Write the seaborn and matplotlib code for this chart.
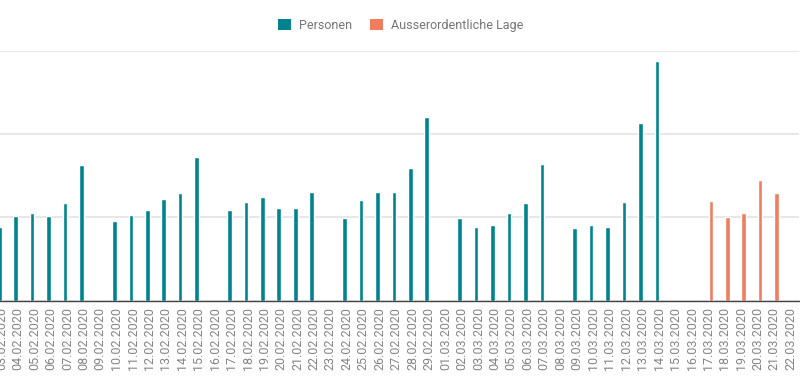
import numpy as np
import pandas as pd
import matplotlib.pyplot as plt
import seaborn as sns
from matplotlib.patches import Patch

# ==========================================
# Data
# ==========================================

dates = [
    "03.02.2020", "04.02.2020", "05.02.2020", "06.02.2020", "07.02.2020",
    "08.02.2020", "09.02.2020", "10.02.2020", "11.02.2020", "12.02.2020",
    "13.02.2020", "14.02.2020", "15.02.2020", "16.02.2020", "17.02.2020",
    "18.02.2020", "19.02.2020", "20.02.2020", "21.02.2020", "22.02.2020",
    "23.02.2020", "24.02.2020", "25.02.2020", "26.02.2020", "27.02.2020",
    "28.02.2020", "29.02.2020", "01.03.2020", "02.03.2020", "03.03.2020",
    "04.03.2020", "05.03.2020", "06.03.2020", "07.03.2020", "08.03.2020",
    "09.03.2020", "10.03.2020", "11.03.2020", "12.03.2020", "13.03.2020",
    "14.03.2020", "15.03.2020", "16.03.2020", "17.03.2020", "18.03.2020",
    "19.03.2020", "20.03.2020", "21.03.2020", "22.03.2020",
]

nan = np.nan

personen = [
    88.5, 102, 105.6, 102, 116.8, 162.4, nan,
    95.6, 103.2, 108.4, 122, 129.6, 172.5, nan,
    108.4, 118.5, 124.5, 110.8, 110.8, 130, nan,
    99.3, 120.9, 130, 130.9, 159.7, 220, nan,
    99.3, 88, 90.4, 105.3, 116.8, 163.6, nan,
    86.6, 90.4, 88, 118, 213.7, 288, nan,
    nan, nan, nan, nan, nan, nan, nan,
]

ausserordentlich = [
    nan, nan, nan, nan, nan, nan, nan,
    nan, nan, nan, nan, nan, nan, nan,
    nan, nan, nan, nan, nan, nan, nan,
    nan, nan, nan, nan, nan, nan, nan,
    nan, nan, nan, nan, nan, nan, nan,
    nan, nan, nan, nan, nan, nan, nan,
    nan, 119, 100.5, 105.3, 144.5, 129.7, nan,
]

series = ["Personen", "Ausserordentliche Lage"]
colors = ["#01838f", "#f07e5e"]

data = pd.DataFrame({
    "Datum": dates * 2,
    "Serie": [series[0]] * len(dates) + [series[1]] * len(dates),
    "Wert": personen + ausserordentlich,
})

# ==========================================
# Plot
# ==========================================

sns.set_style("white")
plt.rcParams["font.family"] = ["Roboto", "DejaVu Sans"]

fig = plt.figure(figsize=(8, 3.89), dpi=100)
ax = fig.add_axes([-0.0083, 0.227, 1.007, 0.643])

sns.barplot(
    data=data,
    x="Datum",
    y="Wert",
    hue="Serie",
    order=dates,
    hue_order=series,
    palette=colors,
    dodge=True,
    width=0.56,
    errorbar=None,
    saturation=1,
    legend=False,
    ax=ax,
)

ax.set_ylim(0, 300)
ax.set_yticks([0, 100, 200, 300])
ax.set_yticklabels([])
ax.set_xlim(-0.5, len(dates) - 0.5)
ax.set_xlabel("")
ax.set_ylabel("")

ax.grid(axis="y", color="#e0e0e0", linewidth=1.1)
ax.set_axisbelow(True)
for side in ["top", "left", "right"]:
    ax.spines[side].set_visible(False)
ax.spines["bottom"].set_color("#444444")
ax.spines["bottom"].set_linewidth(1)

ax.tick_params(axis="x", length=0, pad=4.5, labelsize=9,
               labelcolor="#858585", rotation=90)
ax.tick_params(axis="y", length=0)

handles = [Patch(facecolor=c, edgecolor="none") for c in colors]
fig.legend(
    handles, series,
    loc="center",
    bbox_to_anchor=(401 / 800, 1 - 25.5 / 389),
    ncol=2,
    frameon=False,
    fontsize=9,
    labelcolor="#757575",
    handlelength=1.0,
    handleheight=1.0,
    handletextpad=0.7,
    columnspacing=1.4,
)

plt.savefig("out.png", dpi=100)
